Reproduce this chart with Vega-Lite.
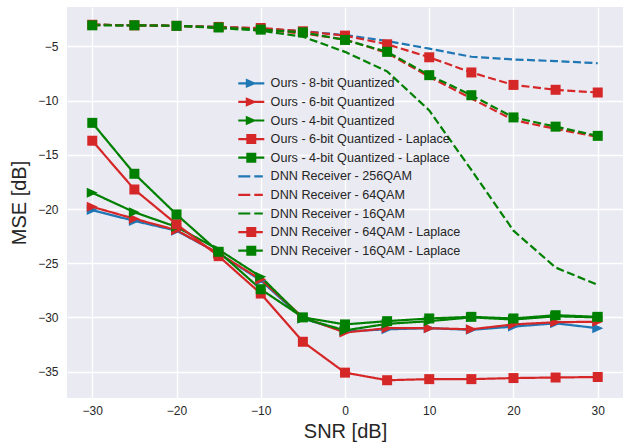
{
  "$schema": "https://vega.github.io/schema/vega-lite/v6.json",
  "autosize": "none",
  "width": 556,
  "height": 391,
  "padding": {"left": 67, "top": 7, "right": 1, "bottom": 49},
  "background": "white",
  "data": {
    "values": [
      {"snr": -30, "mse": -20.1, "series": "Ours - 8-bit Quantized"},
      {"snr": -25, "mse": -21.1, "series": "Ours - 8-bit Quantized"},
      {"snr": -20, "mse": -22.0, "series": "Ours - 8-bit Quantized"},
      {"snr": -15, "mse": -24.1, "series": "Ours - 8-bit Quantized"},
      {"snr": -10, "mse": -26.6, "series": "Ours - 8-bit Quantized"},
      {"snr": -5, "mse": -30.1, "series": "Ours - 8-bit Quantized"},
      {"snr": 0, "mse": -31.3, "series": "Ours - 8-bit Quantized"},
      {"snr": 5, "mse": -31.1, "series": "Ours - 8-bit Quantized"},
      {"snr": 10, "mse": -31.0, "series": "Ours - 8-bit Quantized"},
      {"snr": 15, "mse": -31.15, "series": "Ours - 8-bit Quantized"},
      {"snr": 20, "mse": -30.85, "series": "Ours - 8-bit Quantized"},
      {"snr": 25, "mse": -30.55, "series": "Ours - 8-bit Quantized"},
      {"snr": 30, "mse": -31.0, "series": "Ours - 8-bit Quantized"},

      {"snr": -30, "mse": -19.8, "series": "Ours - 6-bit Quantized"},
      {"snr": -25, "mse": -20.9, "series": "Ours - 6-bit Quantized"},
      {"snr": -20, "mse": -21.95, "series": "Ours - 6-bit Quantized"},
      {"snr": -15, "mse": -24.1, "series": "Ours - 6-bit Quantized"},
      {"snr": -10, "mse": -26.5, "series": "Ours - 6-bit Quantized"},
      {"snr": -5, "mse": -30.0, "series": "Ours - 6-bit Quantized"},
      {"snr": 0, "mse": -31.4, "series": "Ours - 6-bit Quantized"},
      {"snr": 5, "mse": -31.0, "series": "Ours - 6-bit Quantized"},
      {"snr": 10, "mse": -31.0, "series": "Ours - 6-bit Quantized"},
      {"snr": 15, "mse": -31.1, "series": "Ours - 6-bit Quantized"},
      {"snr": 20, "mse": -30.65, "series": "Ours - 6-bit Quantized"},
      {"snr": 25, "mse": -30.45, "series": "Ours - 6-bit Quantized"},
      {"snr": 30, "mse": -30.4, "series": "Ours - 6-bit Quantized"},

      {"snr": -30, "mse": -18.5, "series": "Ours - 4-bit Quantized"},
      {"snr": -25, "mse": -20.3, "series": "Ours - 4-bit Quantized"},
      {"snr": -20, "mse": -21.65, "series": "Ours - 4-bit Quantized"},
      {"snr": -15, "mse": -23.75, "series": "Ours - 4-bit Quantized"},
      {"snr": -10, "mse": -26.25, "series": "Ours - 4-bit Quantized"},
      {"snr": -5, "mse": -30.1, "series": "Ours - 4-bit Quantized"},
      {"snr": 0, "mse": -31.2, "series": "Ours - 4-bit Quantized"},
      {"snr": 5, "mse": -30.6, "series": "Ours - 4-bit Quantized"},
      {"snr": 10, "mse": -30.35, "series": "Ours - 4-bit Quantized"},
      {"snr": 15, "mse": -30.0, "series": "Ours - 4-bit Quantized"},
      {"snr": 20, "mse": -30.2, "series": "Ours - 4-bit Quantized"},
      {"snr": 25, "mse": -29.9, "series": "Ours - 4-bit Quantized"},
      {"snr": 30, "mse": -30.0, "series": "Ours - 4-bit Quantized"},

      {"snr": -30, "mse": -13.7, "series": "Ours - 6-bit Quantized - Laplace"},
      {"snr": -25, "mse": -18.2, "series": "Ours - 6-bit Quantized - Laplace"},
      {"snr": -20, "mse": -21.4, "series": "Ours - 6-bit Quantized - Laplace"},
      {"snr": -15, "mse": -24.35, "series": "Ours - 6-bit Quantized - Laplace"},
      {"snr": -10, "mse": -27.8, "series": "Ours - 6-bit Quantized - Laplace"},
      {"snr": -5, "mse": -32.25, "series": "Ours - 6-bit Quantized - Laplace"},
      {"snr": 0, "mse": -35.1, "series": "Ours - 6-bit Quantized - Laplace"},
      {"snr": 5, "mse": -35.8, "series": "Ours - 6-bit Quantized - Laplace"},
      {"snr": 10, "mse": -35.7, "series": "Ours - 6-bit Quantized - Laplace"},
      {"snr": 15, "mse": -35.7, "series": "Ours - 6-bit Quantized - Laplace"},
      {"snr": 20, "mse": -35.6, "series": "Ours - 6-bit Quantized - Laplace"},
      {"snr": 25, "mse": -35.55, "series": "Ours - 6-bit Quantized - Laplace"},
      {"snr": 30, "mse": -35.5, "series": "Ours - 6-bit Quantized - Laplace"},

      {"snr": -30, "mse": -12.05, "series": "Ours - 4-bit Quantized - Laplace"},
      {"snr": -25, "mse": -16.75, "series": "Ours - 4-bit Quantized - Laplace"},
      {"snr": -20, "mse": -20.5, "series": "Ours - 4-bit Quantized - Laplace"},
      {"snr": -15, "mse": -23.95, "series": "Ours - 4-bit Quantized - Laplace"},
      {"snr": -10, "mse": -27.4, "series": "Ours - 4-bit Quantized - Laplace"},
      {"snr": -5, "mse": -30.0, "series": "Ours - 4-bit Quantized - Laplace"},
      {"snr": 0, "mse": -30.65, "series": "Ours - 4-bit Quantized - Laplace"},
      {"snr": 5, "mse": -30.35, "series": "Ours - 4-bit Quantized - Laplace"},
      {"snr": 10, "mse": -30.1, "series": "Ours - 4-bit Quantized - Laplace"},
      {"snr": 15, "mse": -29.95, "series": "Ours - 4-bit Quantized - Laplace"},
      {"snr": 20, "mse": -30.1, "series": "Ours - 4-bit Quantized - Laplace"},
      {"snr": 25, "mse": -29.8, "series": "Ours - 4-bit Quantized - Laplace"},
      {"snr": 30, "mse": -29.95, "series": "Ours - 4-bit Quantized - Laplace"},

      {"snr": -30, "mse": -3.0, "series": "DNN Receiver - 256QAM"},
      {"snr": -25, "mse": -3.05, "series": "DNN Receiver - 256QAM"},
      {"snr": -20, "mse": -3.1, "series": "DNN Receiver - 256QAM"},
      {"snr": -15, "mse": -3.2, "series": "DNN Receiver - 256QAM"},
      {"snr": -10, "mse": -3.35, "series": "DNN Receiver - 256QAM"},
      {"snr": -5, "mse": -3.6, "series": "DNN Receiver - 256QAM"},
      {"snr": 0, "mse": -3.95, "series": "DNN Receiver - 256QAM"},
      {"snr": 5, "mse": -4.5, "series": "DNN Receiver - 256QAM"},
      {"snr": 10, "mse": -5.2, "series": "DNN Receiver - 256QAM"},
      {"snr": 15, "mse": -5.95, "series": "DNN Receiver - 256QAM"},
      {"snr": 20, "mse": -6.2, "series": "DNN Receiver - 256QAM"},
      {"snr": 25, "mse": -6.35, "series": "DNN Receiver - 256QAM"},
      {"snr": 30, "mse": -6.55, "series": "DNN Receiver - 256QAM"},

      {"snr": -30, "mse": -3.0, "series": "DNN Receiver - 64QAM"},
      {"snr": -25, "mse": -3.05, "series": "DNN Receiver - 64QAM"},
      {"snr": -20, "mse": -3.1, "series": "DNN Receiver - 64QAM"},
      {"snr": -15, "mse": -3.25, "series": "DNN Receiver - 64QAM"},
      {"snr": -10, "mse": -3.45, "series": "DNN Receiver - 64QAM"},
      {"snr": -5, "mse": -3.8, "series": "DNN Receiver - 64QAM"},
      {"snr": 0, "mse": -4.35, "series": "DNN Receiver - 64QAM"},
      {"snr": 5, "mse": -5.6, "series": "DNN Receiver - 64QAM"},
      {"snr": 10, "mse": -7.8, "series": "DNN Receiver - 64QAM"},
      {"snr": 15, "mse": -9.8, "series": "DNN Receiver - 64QAM"},
      {"snr": 20, "mse": -11.8, "series": "DNN Receiver - 64QAM"},
      {"snr": 25, "mse": -12.6, "series": "DNN Receiver - 64QAM"},
      {"snr": 30, "mse": -13.35, "series": "DNN Receiver - 64QAM"},

      {"snr": -30, "mse": -3.0, "series": "DNN Receiver - 16QAM"},
      {"snr": -25, "mse": -3.05, "series": "DNN Receiver - 16QAM"},
      {"snr": -20, "mse": -3.1, "series": "DNN Receiver - 16QAM"},
      {"snr": -15, "mse": -3.3, "series": "DNN Receiver - 16QAM"},
      {"snr": -10, "mse": -3.55, "series": "DNN Receiver - 16QAM"},
      {"snr": -5, "mse": -4.1, "series": "DNN Receiver - 16QAM"},
      {"snr": 0, "mse": -5.5, "series": "DNN Receiver - 16QAM"},
      {"snr": 5, "mse": -7.3, "series": "DNN Receiver - 16QAM"},
      {"snr": 10, "mse": -10.9, "series": "DNN Receiver - 16QAM"},
      {"snr": 15, "mse": -16.4, "series": "DNN Receiver - 16QAM"},
      {"snr": 20, "mse": -22.0, "series": "DNN Receiver - 16QAM"},
      {"snr": 25, "mse": -25.4, "series": "DNN Receiver - 16QAM"},
      {"snr": 30, "mse": -27.0, "series": "DNN Receiver - 16QAM"},

      {"snr": -30, "mse": -3.0, "series": "DNN Receiver - 64QAM - Laplace"},
      {"snr": -25, "mse": -3.05, "series": "DNN Receiver - 64QAM - Laplace"},
      {"snr": -20, "mse": -3.1, "series": "DNN Receiver - 64QAM - Laplace"},
      {"snr": -15, "mse": -3.2, "series": "DNN Receiver - 64QAM - Laplace"},
      {"snr": -10, "mse": -3.3, "series": "DNN Receiver - 64QAM - Laplace"},
      {"snr": -5, "mse": -3.6, "series": "DNN Receiver - 64QAM - Laplace"},
      {"snr": 0, "mse": -4.0, "series": "DNN Receiver - 64QAM - Laplace"},
      {"snr": 5, "mse": -4.8, "series": "DNN Receiver - 64QAM - Laplace"},
      {"snr": 10, "mse": -6.0, "series": "DNN Receiver - 64QAM - Laplace"},
      {"snr": 15, "mse": -7.4, "series": "DNN Receiver - 64QAM - Laplace"},
      {"snr": 20, "mse": -8.55, "series": "DNN Receiver - 64QAM - Laplace"},
      {"snr": 25, "mse": -9.0, "series": "DNN Receiver - 64QAM - Laplace"},
      {"snr": 30, "mse": -9.25, "series": "DNN Receiver - 64QAM - Laplace"},

      {"snr": -30, "mse": -3.05, "series": "DNN Receiver - 16QAM - Laplace"},
      {"snr": -25, "mse": -3.05, "series": "DNN Receiver - 16QAM - Laplace"},
      {"snr": -20, "mse": -3.1, "series": "DNN Receiver - 16QAM - Laplace"},
      {"snr": -15, "mse": -3.25, "series": "DNN Receiver - 16QAM - Laplace"},
      {"snr": -10, "mse": -3.45, "series": "DNN Receiver - 16QAM - Laplace"},
      {"snr": -5, "mse": -3.7, "series": "DNN Receiver - 16QAM - Laplace"},
      {"snr": 0, "mse": -4.4, "series": "DNN Receiver - 16QAM - Laplace"},
      {"snr": 5, "mse": -5.5, "series": "DNN Receiver - 16QAM - Laplace"},
      {"snr": 10, "mse": -7.65, "series": "DNN Receiver - 16QAM - Laplace"},
      {"snr": 15, "mse": -9.5, "series": "DNN Receiver - 16QAM - Laplace"},
      {"snr": 20, "mse": -11.55, "series": "DNN Receiver - 16QAM - Laplace"},
      {"snr": 25, "mse": -12.4, "series": "DNN Receiver - 16QAM - Laplace"},
      {"snr": 30, "mse": -13.25, "series": "DNN Receiver - 16QAM - Laplace"}
    ]
  },
  "encoding": {
    "x": {
      "field": "snr", "type": "quantitative", "title": "SNR [dB]",
      "scale": {"domain": [-33, 33], "nice": false, "zero": false},
      "axis": {"values": [-30, -20, -10, 0, 10, 20, 30], "labelPadding": 7, "titlePadding": 5}
    },
    "y": {
      "field": "mse", "type": "quantitative", "title": "MSE [dB]",
      "scale": {"domain": [-37.44, -1.36], "nice": false, "zero": false},
      "axis": {"values": [-35, -30, -25, -20, -15, -10, -5], "labelPadding": 9, "titlePadding": 8}
    }
  },
  "layer": [
    {
      "mark": {"type": "line", "strokeWidth": 2.2},
      "encoding": {
        "color": {
          "field": "series", "type": "nominal", "legend": null,
          "scale": {
            "domain": ["Ours - 8-bit Quantized", "Ours - 6-bit Quantized", "Ours - 4-bit Quantized", "Ours - 6-bit Quantized - Laplace", "Ours - 4-bit Quantized - Laplace", "DNN Receiver - 256QAM", "DNN Receiver - 64QAM", "DNN Receiver - 16QAM", "DNN Receiver - 64QAM - Laplace", "DNN Receiver - 16QAM - Laplace"],
            "range": ["#1f77b4", "#d62728", "#008000", "#d62728", "#008000", "#1f77b4", "#d62728", "#008000", "#d62728", "#008000"]
          }
        },
        "strokeDash": {
          "field": "series", "type": "nominal", "legend": null,
          "scale": {
            "domain": ["Ours - 8-bit Quantized", "Ours - 6-bit Quantized", "Ours - 4-bit Quantized", "Ours - 6-bit Quantized - Laplace", "Ours - 4-bit Quantized - Laplace", "DNN Receiver - 256QAM", "DNN Receiver - 64QAM", "DNN Receiver - 16QAM", "DNN Receiver - 64QAM - Laplace", "DNN Receiver - 16QAM - Laplace"],
            "range": [[1, 0], [1, 0], [1, 0], [1, 0], [1, 0], [8, 3.5], [8, 3.5], [8, 3.5], [8, 3.5], [8, 3.5]]
          }
        }
      }
    },
    {
      "transform": [
        {"filter": {"field": "series", "oneOf": ["Ours - 8-bit Quantized", "Ours - 6-bit Quantized", "Ours - 4-bit Quantized", "Ours - 6-bit Quantized - Laplace", "Ours - 4-bit Quantized - Laplace", "DNN Receiver - 64QAM - Laplace", "DNN Receiver - 16QAM - Laplace"]}}
      ],
      "mark": {"type": "point", "filled": true, "opacity": 1, "size": 100, "strokeWidth": 0},
      "encoding": {
        "color": {
          "field": "series", "type": "nominal", "legend": null,
          "scale": {
            "domain": ["Ours - 8-bit Quantized", "Ours - 6-bit Quantized", "Ours - 4-bit Quantized", "Ours - 6-bit Quantized - Laplace", "Ours - 4-bit Quantized - Laplace", "DNN Receiver - 64QAM - Laplace", "DNN Receiver - 16QAM - Laplace"],
            "range": ["#1f77b4", "#d62728", "#008000", "#d62728", "#008000", "#d62728", "#008000"]
          }
        },
        "shape": {
          "field": "series", "type": "nominal", "legend": null,
          "scale": {
            "domain": ["Ours - 8-bit Quantized", "Ours - 6-bit Quantized", "Ours - 4-bit Quantized", "Ours - 6-bit Quantized - Laplace", "Ours - 4-bit Quantized - Laplace", "DNN Receiver - 64QAM - Laplace", "DNN Receiver - 16QAM - Laplace"],
            "range": ["M-1.1,-1L1.1,0L-1.1,1Z", "M-1.1,-1L1.1,0L-1.1,1Z", "M-1.1,-1L1.1,0L-1.1,1Z", "square", "square", "square", "square"]
          }
        }
      }
    },
    {
      "transform": [{"filter": "false"}],
      "mark": {"type": "point", "filled": true, "opacity": 1, "strokeWidth": 0},
      "encoding": {
        "color": {
          "field": "series", "type": "nominal",
          "scale": {
            "domain": ["Ours - 8-bit Quantized", "Ours - 6-bit Quantized", "Ours - 4-bit Quantized", "Ours - 6-bit Quantized - Laplace", "Ours - 4-bit Quantized - Laplace", "DNN Receiver - 256QAM", "DNN Receiver - 64QAM", "DNN Receiver - 16QAM", "DNN Receiver - 64QAM - Laplace", "DNN Receiver - 16QAM - Laplace"],
            "range": ["#1f77b4", "#d62728", "#008000", "#d62728", "#008000", "#1f77b4", "#d62728", "#008000", "#d62728", "#008000"]
          },
          "legend": {
            "orient": "none", "legendX": 178, "legendY": 70, "title": null, "padding": 0,
            "symbolSize": 100, "symbolStrokeWidth": 0, "symbolOffset": 0, "labelOffset": 13,
            "labelFont": "Liberation Sans", "labelFontSize": 12.6, "labelColor": "#262626",
            "labelLimit": 0, "rowPadding": 5.6
          }
        },
        "shape": {
          "field": "series", "type": "nominal",
          "scale": {
            "domain": ["Ours - 8-bit Quantized", "Ours - 6-bit Quantized", "Ours - 4-bit Quantized", "Ours - 6-bit Quantized - Laplace", "Ours - 4-bit Quantized - Laplace", "DNN Receiver - 256QAM", "DNN Receiver - 64QAM", "DNN Receiver - 16QAM", "DNN Receiver - 64QAM - Laplace", "DNN Receiver - 16QAM - Laplace"],
            "range": [
              "M-2.6,-0.22H2.6V0.22H-2.6Z M-1.1,-0.95L1.1,0L-1.1,0.95Z",
              "M-2.6,-0.22H2.6V0.22H-2.6Z M-1.1,-0.95L1.1,0L-1.1,0.95Z",
              "M-2.6,-0.22H2.6V0.22H-2.6Z M-1.1,-0.95L1.1,0L-1.1,0.95Z",
              "M-2.6,-0.22H2.6V0.22H-2.6Z M-1,-1H1V1H-1Z",
              "M-2.6,-0.22H2.6V0.22H-2.6Z M-1,-1H1V1H-1Z",
              "M-2.6,-0.22H-0.2V0.22H-2.6Z M0.6,-0.22H2.3V0.22H0.6Z",
              "M-2.6,-0.22H-0.2V0.22H-2.6Z M0.6,-0.22H2.3V0.22H0.6Z",
              "M-2.6,-0.22H-0.2V0.22H-2.6Z M0.6,-0.22H2.3V0.22H0.6Z",
              "M-2.6,-0.22H2.3V0.22H-2.6Z M-1,-1H1V1H-1Z",
              "M-2.6,-0.22H2.3V0.22H-2.6Z M-1,-1H1V1H-1Z"
            ]
          },
          "legend": {
            "orient": "none", "legendX": 178, "legendY": 70, "title": null, "padding": 0,
            "symbolSize": 100, "symbolStrokeWidth": 0, "symbolOffset": 0, "labelOffset": 13,
            "labelFont": "Liberation Sans", "labelFontSize": 12.6, "labelColor": "#262626",
            "labelLimit": 0, "rowPadding": 5.6
          }
        }
      }
    }
  ],
  "resolve": {"scale": {"color": "independent", "shape": "independent", "strokeDash": "independent"}},
  "config": {
    "view": {"fill": "#EAEAF2", "stroke": null},
    "font": "Liberation Sans",
    "axis": {
      "domain": false,
      "ticks": false,
      "grid": true,
      "gridColor": "white",
      "gridWidth": 1.3,
      "labelFont": "Liberation Sans",
      "labelFontSize": 12,
      "labelColor": "#262626",
      "titleFont": "Liberation Sans",
      "titleFontSize": 20,
      "titleFontWeight": "normal",
      "titleColor": "#262626"
    }
  }
}
